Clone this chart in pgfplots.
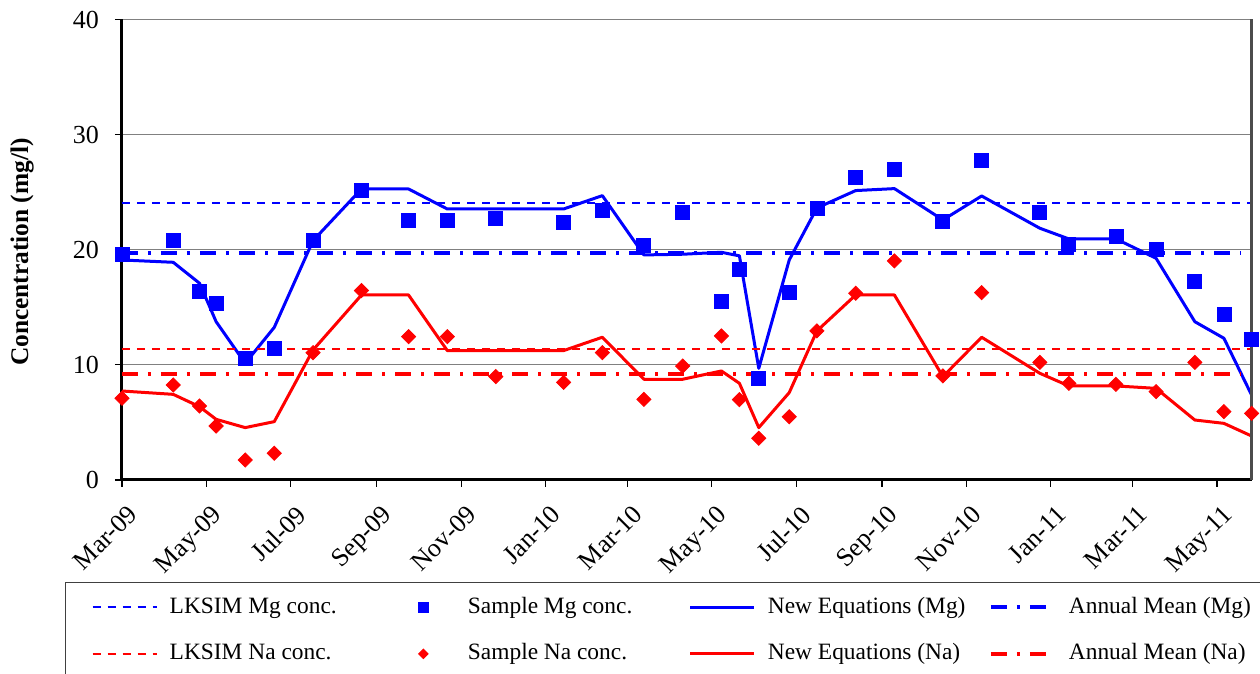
\documentclass[border=0pt]{standalone}
\usepackage{fontspec}
\setmainfont{Liberation Serif}
\usepackage{pgfplots}
\pgfplotsset{compat=1.18}
\definecolor{mgblue}{RGB}{0,0,255}
\definecolor{nared}{RGB}{255,0,0}
\definecolor{gridgray}{RGB}{128,128,128}
\begin{document}
\begin{tikzpicture}
\begin{axis}[
  at={(0,0)}, anchor=south west,
  scale only axis, width=564.8pt, height=230.25pt,
  xmin=0, xmax=816, ymin=0, ymax=40,
  ytick={0,10,20,30,40},
  xtick={0,61,122,184,245,306,365,426,487,549,610,671,730,791},
  xticklabels={Mar-09,May-09,Jul-09,Sep-09,Nov-09,Jan-10,Mar-10,May-10,Jul-10,Sep-10,Nov-10,Jan-11,Mar-11,May-11},
  xticklabel style={rotate=45, anchor=north east, font=\fontsize{13}{15}\selectfont, yshift=-4pt, xshift=-1pt},
  yticklabel style={font=\fontsize{13}{15}\selectfont, xshift=-4.5pt},
  /pgf/number format/assume math mode=true,
  tick align=outside, tick pos=left, major tick length=3.5pt,
  tick style={black, line width=0.6pt},
  ymajorgrids, grid style={gridgray, line width=0.6pt},
  axis x line*=bottom, axis y line*=left,
  axis line style={black, line width=1.5pt},
  ylabel={\bfseries Concentration (mg/l)},
  ylabel style={font=\fontsize{12.7}{15}\selectfont, at={(axis description cs:-0.0885,0.495)}, anchor=center},
  clip=false,
  legend columns=4,
  legend cell align=left,
  legend style={at={(axis description cs:-0.0505,-0.2215)}, anchor=north west,
    draw=black!75, line width=0.6pt, inner xsep=13pt, inner ysep=6.9pt,
    font=\fontsize{11.7}{14}\selectfont, row sep=12.2pt,
    nodes={inner sep=0pt, text height=8.5pt, text depth=2.5pt},
    /tikz/every odd column/.append style={column sep=6pt}},
  legend image code/.code={\path (0pt,0pt) (32pt,0pt); \draw[mark repeat=2,mark phase=2,#1] plot coordinates {(0pt,0pt) (16pt,0pt) (32pt,0pt)};},
]
% LKSIM Mg
\addplot[mgblue, line width=1.1pt, dash pattern=on 4pt off 3.5pt] coordinates {(0,24.04) (816,24.04)};
\addlegendentry{\makebox[110.5pt][l]{LKSIM Mg conc.}}
% Sample Mg
\addplot[only marks, mark=square*, mark size=3.5pt, mgblue, legend image post style={mark size=2.5pt}] coordinates {
(0,19.63) (37,20.79) (56,16.36) (68,15.32) (89,10.57) (110,11.41) (138,20.79) (173,25.17) (207,22.59) (235,22.53) (270,22.70) (319,22.36) (347,23.40) (377,20.42) (405,23.23) (433,15.49) (446,18.27) (460,8.83) (482,16.33) (502,23.63) (530,26.27) (558,27.02) (593,22.42) (621,27.74) (663,23.23) (684,20.48) (718,21.20) (747,20.07) (775,17.29) (796,14.42) (816,12.25)};
\addlegendentry{\makebox[110.5pt][l]{Sample Mg conc.}}
% New Equations Mg
\addplot[mgblue, line width=1.5pt, line join=round, no marks] coordinates {
(0,19.11) (37,18.91) (56,17.09) (68,13.75) (89,10.14) (110,13.26) (138,20.79) (173,25.28) (207,25.28) (235,23.54) (270,23.54) (319,23.54) (347,24.70) (377,19.55) (405,19.61) (433,19.78) (446,19.47) (460,9.70) (482,19.11) (502,23.63) (530,25.14) (558,25.31) (593,22.59) (621,24.67) (663,21.87) (684,20.94) (718,20.94) (747,19.26) (775,13.75) (796,12.31) (816,7.38)};
\addlegendentry{\makebox[110.5pt][l]{New Equations (Mg)}}
% Annual Mean Mg
\addplot[mgblue, line width=2pt, dash pattern=on 8pt off 5pt on 1.5pt off 5pt] coordinates {(0,19.75) (808,19.75)};
\addlegendentry{\makebox[86.5pt][l]{Annual Mean (Mg)}}
% LKSIM Na
\addplot[nared, line width=1.1pt, dash pattern=on 4pt off 3.5pt] coordinates {(0,11.38) (816,11.38)};
\addlegendentry{\makebox[110.5pt][l]{LKSIM Na conc.}}
% Sample Na
\addplot[only marks, mark=square*, mark options={rotate=45}, mark size=2.5pt, nared, legend image post style={mark size=1.6pt}] coordinates {
(0,7.10) (37,8.25) (56,6.43) (68,4.69) (89,1.74) (110,2.32) (138,11.06) (173,16.45) (207,12.45) (235,12.45) (270,8.98) (319,8.48) (347,11.06) (377,7.01) (405,9.90) (433,12.51) (446,6.98) (460,3.62) (482,5.50) (502,12.95) (530,16.22) (558,19.03) (593,9.04) (621,16.27) (663,10.22) (684,8.40) (718,8.31) (747,7.67) (775,10.22) (796,5.94) (816,5.79)};
\addlegendentry{\makebox[110.5pt][l]{Sample Na conc.}}
% New Equations Na
\addplot[nared, line width=1.5pt, line join=round, no marks] coordinates {
(0,7.73) (37,7.44) (56,6.37) (68,5.27) (89,4.55) (110,5.07) (138,11.29) (173,16.07) (207,16.07) (235,11.24) (270,11.24) (319,11.24) (347,12.40) (377,8.75) (405,8.75) (433,9.47) (446,8.40) (460,4.55) (482,7.59) (502,12.95) (530,16.07) (558,16.07) (593,8.98) (621,12.40) (663,9.27) (684,8.17) (718,8.17) (747,7.96) (775,5.21) (796,4.92) (816,3.82)};
\addlegendentry{\makebox[110.5pt][l]{New Equations (Na)}}
% Annual Mean Na
\addplot[nared, line width=2pt, dash pattern=on 8pt off 5pt on 1.5pt off 5pt] coordinates {(0,9.24) (808,9.24)};
\addlegendentry{\makebox[86.5pt][l]{Annual Mean (Na)}}
\draw[black!70, line width=1.2pt] (rel axis cs:1,0) -- (rel axis cs:1,1);
\end{axis}
\pgfresetboundingbox
\useasboundingbox (-61pt,-97pt) rectangle (569pt,240pt);
\end{tikzpicture}
\end{document}
